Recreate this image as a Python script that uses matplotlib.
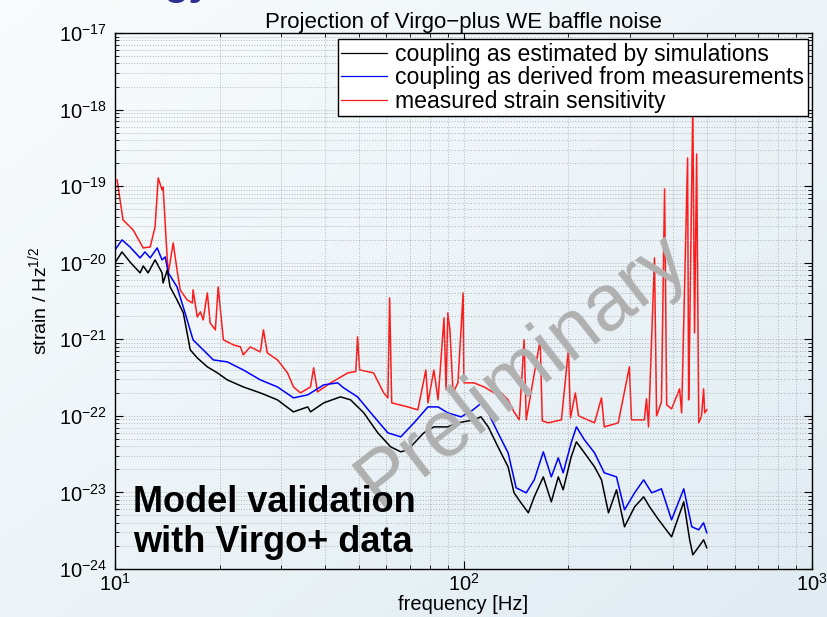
import numpy as np
import matplotlib
matplotlib.use("Agg")
import matplotlib.pyplot as plt
from matplotlib.ticker import LogLocator, NullFormatter, LogFormatterMathtext

plt.rcParams['font.family'] = ['Liberation Sans', 'DejaVu Sans']
plt.rcParams['mathtext.fontset'] = 'custom'
plt.rcParams['mathtext.rm'] = 'Liberation Sans'
plt.rcParams['mathtext.it'] = 'Liberation Sans:italic'
plt.rcParams['mathtext.bf'] = 'Liberation Sans:bold'

# ---- data (log10 of frequency [Hz] and log10 of strain / Hz^1/2) ----
sim_logf = [1.000, 1.020, 1.043, 1.072, 1.081, 1.095, 1.115, 1.135, 1.138, 1.150, 1.158,
            1.178, 1.196, 1.216, 1.236, 1.265, 1.294, 1.322, 1.368, 1.417, 1.466, 1.512,
            1.553, 1.561, 1.599, 1.647, 1.676, 1.714, 1.754, 1.791, 1.820, 1.840, 1.886,
            1.915, 1.955, 1.984, 2.030, 2.050, 2.071, 2.099, 2.128, 2.145, 2.165, 2.186,
            2.203, 2.229, 2.252, 2.272, 2.286, 2.309, 2.324, 2.347, 2.376, 2.396, 2.416,
            2.439, 2.462, 2.491, 2.517, 2.534, 2.560, 2.597, 2.632, 2.649, 2.658, 2.675,
            2.689, 2.698]
sim_logh = [-20.003, -19.859, -19.990, -20.133, -20.042, -20.133, -19.963, -20.133, -20.264,
            -20.094, -20.316, -20.486, -20.655, -21.138, -21.243, -21.360, -21.439, -21.530,
            -21.622, -21.700, -21.791, -21.948, -21.883, -21.948, -21.830, -21.752, -21.791,
            -21.961, -22.222, -22.405, -22.470, -22.444, -22.222, -22.144, -22.144, -22.091,
            -22.052, -22.013, -22.144, -22.405, -22.666, -23.005, -23.136, -23.266, -23.058,
            -22.797, -23.123, -22.797, -22.966, -22.535, -22.339, -22.483, -22.666, -22.836,
            -23.266, -22.966, -23.449, -23.188, -23.058, -23.188, -23.358, -23.580, -23.123,
            -23.619, -23.815, -23.710, -23.619, -23.723]

meas_logf = [1.000, 1.020, 1.043, 1.072, 1.086, 1.101, 1.121, 1.135, 1.144, 1.153, 1.178,
             1.201, 1.224, 1.253, 1.282, 1.322, 1.368, 1.417, 1.466, 1.512, 1.553, 1.599,
             1.639, 1.656, 1.696, 1.734, 1.783, 1.820, 1.858, 1.898, 1.927, 1.955, 1.993,
             2.027, 2.056, 2.071, 2.099, 2.128, 2.151, 2.180, 2.203, 2.229, 2.252, 2.272,
             2.286, 2.309, 2.324, 2.347, 2.376, 2.404, 2.439, 2.462, 2.491, 2.517, 2.540,
             2.568, 2.597, 2.632, 2.655, 2.675, 2.689, 2.698]
meas_logh = [-19.833, -19.702, -19.794, -19.937, -19.859, -19.937, -19.807, -19.963, -19.924,
             -20.133, -20.316, -20.655, -21.008, -21.138, -21.269, -21.295, -21.400, -21.530,
             -21.622, -21.765, -21.726, -21.595, -21.569, -21.634, -21.752, -21.961, -22.222,
             -22.274, -22.091, -21.883, -21.883, -21.961, -22.013, -21.922, -21.817, -21.961,
             -22.222, -22.483, -22.940, -23.005, -22.836, -22.470, -22.797, -22.548, -22.744,
             -22.353, -22.144, -22.313, -22.483, -22.744, -22.797, -23.227, -23.005, -22.836,
             -23.005, -22.953, -23.358, -22.953, -23.449, -23.488, -23.397, -23.527]

sens_logf = [1.006, 1.023, 1.052, 1.081, 1.101, 1.115, 1.124, 1.135, 1.138, 1.150, 1.153,
             1.167, 1.178, 1.187, 1.207, 1.222, 1.224, 1.236, 1.245, 1.253, 1.265, 1.273,
             1.288, 1.296, 1.311, 1.340, 1.360, 1.368, 1.388, 1.417, 1.426, 1.437, 1.466,
             1.495, 1.512, 1.532, 1.561, 1.570, 1.581, 1.619, 1.668, 1.691, 1.696, 1.702,
             1.742, 1.771, 1.783, 1.788, 1.794, 1.840, 1.869, 1.892, 1.898, 1.915, 1.927,
             1.944, 1.950, 1.955, 1.961, 1.970, 1.984, 1.999, 2.001, 2.030, 2.059, 2.088,
             2.108, 2.128, 2.145, 2.160, 2.174, 2.180, 2.220, 2.226, 2.243, 2.281, 2.301,
             2.307, 2.321, 2.330, 2.376, 2.396, 2.404, 2.444, 2.476, 2.482, 2.519, 2.525,
             2.531, 2.548, 2.554, 2.568, 2.577, 2.583, 2.597, 2.620, 2.626, 2.643, 2.646,
             2.649, 2.658, 2.663, 2.669, 2.675, 2.683, 2.689, 2.692, 2.698]
sens_logh = [-18.919, -19.441, -19.572, -19.807, -19.794, -19.533, -18.893, -19.050, -19.010,
             -19.963, -20.133, -19.742, -20.094, -20.355, -20.486, -20.525, -20.355, -20.708,
             -20.642, -20.747, -20.394, -20.786, -20.877, -20.316, -21.008, -21.073, -21.099,
             -21.204, -21.099, -21.165, -20.877, -21.178, -21.269, -21.439, -21.622, -21.700,
             -21.622, -21.373, -21.687, -21.569, -21.439, -21.420, -20.969, -21.400, -21.439,
             -21.700, -21.765, -20.460, -21.830, -21.883, -21.922, -21.400, -21.830, -21.400,
             -21.791, -20.721, -21.661, -20.655, -20.877, -21.700, -21.569, -20.394, -21.569,
             -21.569, -21.622, -21.700, -21.700, -21.791, -21.948, -22.052, -21.008, -22.052,
             -21.008, -22.065, -22.091, -22.052, -21.138, -22.026, -21.700, -22.000, -22.091,
             -21.765, -22.144, -22.091, -21.360, -22.052, -22.052, -21.778, -22.144, -19.937,
             -22.000, -21.817, -19.037, -21.856, -21.909, -21.648, -21.961, -18.632, -21.791,
             -20.917, -17.940, -20.917, -18.580, -22.091, -22.000, -21.648, -21.961, -21.922]

labels = ["coupling as estimated by simulations",
          "coupling as derived from measurements",
          "measured strain sensitivity"]

W, H = 827, 617
fig = plt.figure(figsize=(W / 100, H / 100), dpi=100)

# background gradient (slide background)
bg = fig.add_axes([0, 0, 1, 1], zorder=-10)
gx, gy = np.meshgrid(np.linspace(0, 1, 200), np.linspace(0, 1, 200))
t = np.clip(0.5 * gx + 0.5 * gy, 0, 1)
c0 = np.array([0.975, 0.985, 0.99])
c1 = np.array([0.88, 0.925, 0.95])
img = c0[None, None, :] * (1 - t[..., None]) + c1[None, None, :] * t[..., None]
bg.imshow(img, aspect='auto', extent=[0, 1, 0, 1], origin='upper')
bg.set_axis_off()

ax = fig.add_axes([115 / W, 1 - 569 / H, (812 - 115) / W, (569 - 33) / H])
ax.set_facecolor('none')

ax.plot(10 ** np.array(sim_logf), 10 ** np.array(sim_logh), color='black', lw=1.1, label=labels[0], zorder=3)
ax.plot(10 ** np.array(meas_logf), 10 ** np.array(meas_logh), color='#0000ff', lw=1.1, label=labels[1], zorder=2)
ax.plot(10 ** np.array(sens_logf), 10 ** np.array(sens_logh), color='#ff1a1a', lw=1.1, label=labels[2], zorder=1)

ax.set_xscale('log')
ax.set_yscale('log')
ax.set_xlim(10, 1000)
ax.set_ylim(1e-24, 1e-17)

ax.xaxis.set_major_locator(LogLocator(base=10, numticks=10))
ax.xaxis.set_minor_locator(LogLocator(base=10, subs=np.arange(2, 10), numticks=20))
ax.yaxis.set_major_locator(LogLocator(base=10, numticks=20))
ax.yaxis.set_minor_locator(LogLocator(base=10, subs=np.arange(2, 10), numticks=50))
ax.xaxis.set_minor_formatter(NullFormatter())
ax.yaxis.set_minor_formatter(NullFormatter())
ax.xaxis.set_major_formatter(LogFormatterMathtext())
ax.yaxis.set_major_formatter(LogFormatterMathtext())

ax.grid(True, which='both', linestyle=(0, (1, 2.5)), color='#8f8f8f', linewidth=0.55)
ax.tick_params(which='both', direction='in', top=True, right=True, colors='black', labelsize=14.5)
ax.tick_params(which='major', length=6, width=0.8)
ax.tick_params(which='minor', length=3, width=0.6)
ax.tick_params(axis='x', pad=3)
ax.tick_params(axis='y', pad=6)
for s in ax.spines.values():
    s.set_linewidth(1.0)
    s.set_color('black')

ax.set_title("Projection of Virgo\u2212plus WE baffle noise", fontsize=16, pad=3)
ax.set_xlabel("frequency [Hz]", fontsize=14.5, labelpad=0)
ax.set_ylabel(r"strain / Hz$^{1/2}$", fontsize=14, labelpad=6)

leg = ax.legend(loc='upper right', bbox_to_anchor=(0.994, 0.988), fontsize=16.6,
                frameon=True, fancybox=False, edgecolor='black', framealpha=1,
                handlelength=2.0, labelspacing=0.02, borderpad=0.15, borderaxespad=0,
                handletextpad=0.35)
leg.get_frame().set_linewidth(1.0)
for ln in leg.get_lines():
    ln.set_linewidth(0.9)

ax.text((133 - 115) / 697, (569 - 552) / 536, "Model validation\nwith Virgo+ data",
        transform=ax.transAxes, fontsize=26, fontweight='bold', color='black',
        ha='left', va='baseline', linespacing=1.2, zorder=6)

ax.text(0.585, 0.37, "Preliminary", transform=ax.transAxes, fontsize=57, color='#b0b0b0',
        rotation=38, ha='center', va='center', zorder=5, rotation_mode='anchor')

fig.text(163 / W, 1 + 6 / H, "gy", fontsize=30, fontweight='bold', color='#2b2f8f',
         ha='left', va='baseline')

fig.savefig("out.png", dpi=100)
